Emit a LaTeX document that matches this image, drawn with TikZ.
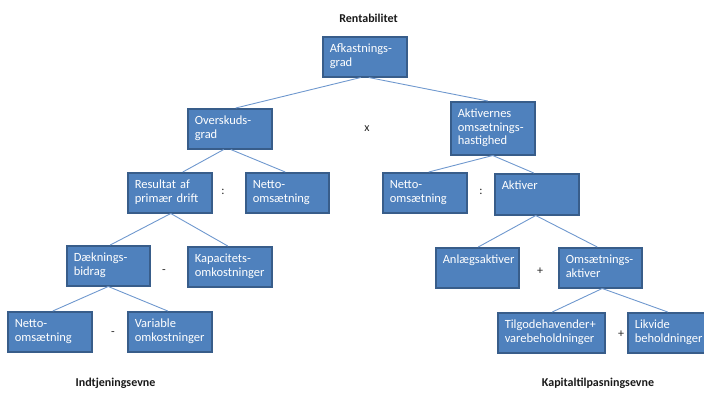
\documentclass[tikz,border=0pt]{standalone}
\usepackage{fontspec}
\setmainfont{Carlito}
\definecolor{boxfill}{HTML}{4F81BD}
\definecolor{boxline}{HTML}{385D8A}
\definecolor{conn}{HTML}{6F98CE}
\begin{document}
\begin{tikzpicture}[x=1pt,y=-1pt,
  box/.style 2 args={draw=boxline, line width=1.5pt, fill=boxfill, text=white,
    font=\fontsize{12.5}{13.6}\selectfont, align=left, anchor=north west,
    inner xsep=7pt, inner ysep=4pt, text width=#1, text height=12pt, text depth=#2},
  lab/.style={font=\bfseries\fontsize{12}{14}\selectfont, text=black!90},
  op/.style={font=\fontsize{12}{14}\selectfont, text=black!85},
  conn/.style={draw=conn, line width=0.9pt}]
\useasboundingbox (0,0) rectangle (704,394);

% labels
\node[lab] (rent) at (368.5,18) {Rentabilitet};
\node[lab] (indt) at (115.5,383) {Indtjeningsevne};
\node[lab] (kapt) at (598,383) {Kapitaltilpasningsevne};

% boxes
\node[box={70pt}{20pt}] (afk) at (322,36) {Afkastnings-\\grad};
\node[box={70pt}{20pt}] (ovs) at (187,108) {Overskuds-\\grad};
\node[box={70pt}{33pt}] (akt) at (450,101) {Aktivernes\\omsætnings-\\hastighed};
\node[box={70pt}{20pt}] (res) at (127,172) {Resultat af\\primær drift};
\node[box={69pt}{20pt}] (net1) at (245,172) {Netto-\\omsætning};
\node[box={70pt}{20pt}] (net2) at (382,172) {Netto-\\omsætning};
\node[box={70pt}{21pt}] (aktv) at (494,173) {Aktiver};
\node[box={69pt}{20pt}] (daek) at (66,245) {Dæknings-\\bidrag};
\node[box={70pt}{20pt}] (kap) at (187,246) {Kapacitets-\\omkostninger};
\node[box={69pt}{20pt}] (anl) at (435,247) {Anlægsaktiver};
\node[box={69pt}{20pt}] (oms) at (558,247) {Omsætnings-\\aktiver};
\node[box={70pt}{20pt}] (net3) at (7,311) {Netto-\\omsætning};
\node[box={70pt}{20pt}] (var) at (127,311) {Variable\\omkostninger};
\node[box={93pt}{20pt}] (til) at (497,312) {Tilgodehavender+\\varebeholdninger};
\node[box={70pt}{20pt}] (lik) at (627,312) {Likvide\\beholdninger};

% operators
\node[op] (o1) at (367,129) {x};
\node[op] (o2) at (223,192) {:};
\node[op] (o3) at (481,192) {:};
\node[op] (o4) at (164,272) {-};
\node[op] (o5) at (113,334) {-};
\node[op] (o6) at (540,271) {+};
\node[op] (o7) at (621,334) {+};

% connectors
\draw[conn] ([xshift=-4pt]afk.south) -- ([xshift=6pt]ovs.north);
\draw[conn] ([xshift=4pt]afk.south) -- ([xshift=-5pt]akt.north);
\draw[conn] ([xshift=-6pt]ovs.south) -- ([xshift=13pt]res.north);
\draw[conn] ([xshift=1pt]ovs.south) -- ([xshift=-2pt]net1.north);
\draw[conn] ([xshift=1pt]res.south) -- ([xshift=2pt]daek.north);
\draw[conn] ([xshift=1pt]res.south) -- ([xshift=-2pt]kap.north);
\draw[conn] ([xshift=0pt]daek.south) -- ([xshift=3pt]net3.north);
\draw[conn] ([xshift=0pt]daek.south) -- ([xshift=-2pt]var.north);
\draw[conn] (akt.south) -- ([xshift=4pt]net2.north);
\draw[conn] (akt.south) -- ([xshift=-3pt]aktv.north);
\draw[conn] ([xshift=-1pt]aktv.south) -- ([xshift=1pt]anl.north);
\draw[conn] ([xshift=-1pt]aktv.south) -- ([xshift=-3pt]oms.north);
\draw[conn] ([xshift=2pt]oms.south) -- ([xshift=1pt]til.north);
\draw[conn] ([xshift=2pt]oms.south) -- ([xshift=-2pt]lik.north);
\end{tikzpicture}
\end{document}
